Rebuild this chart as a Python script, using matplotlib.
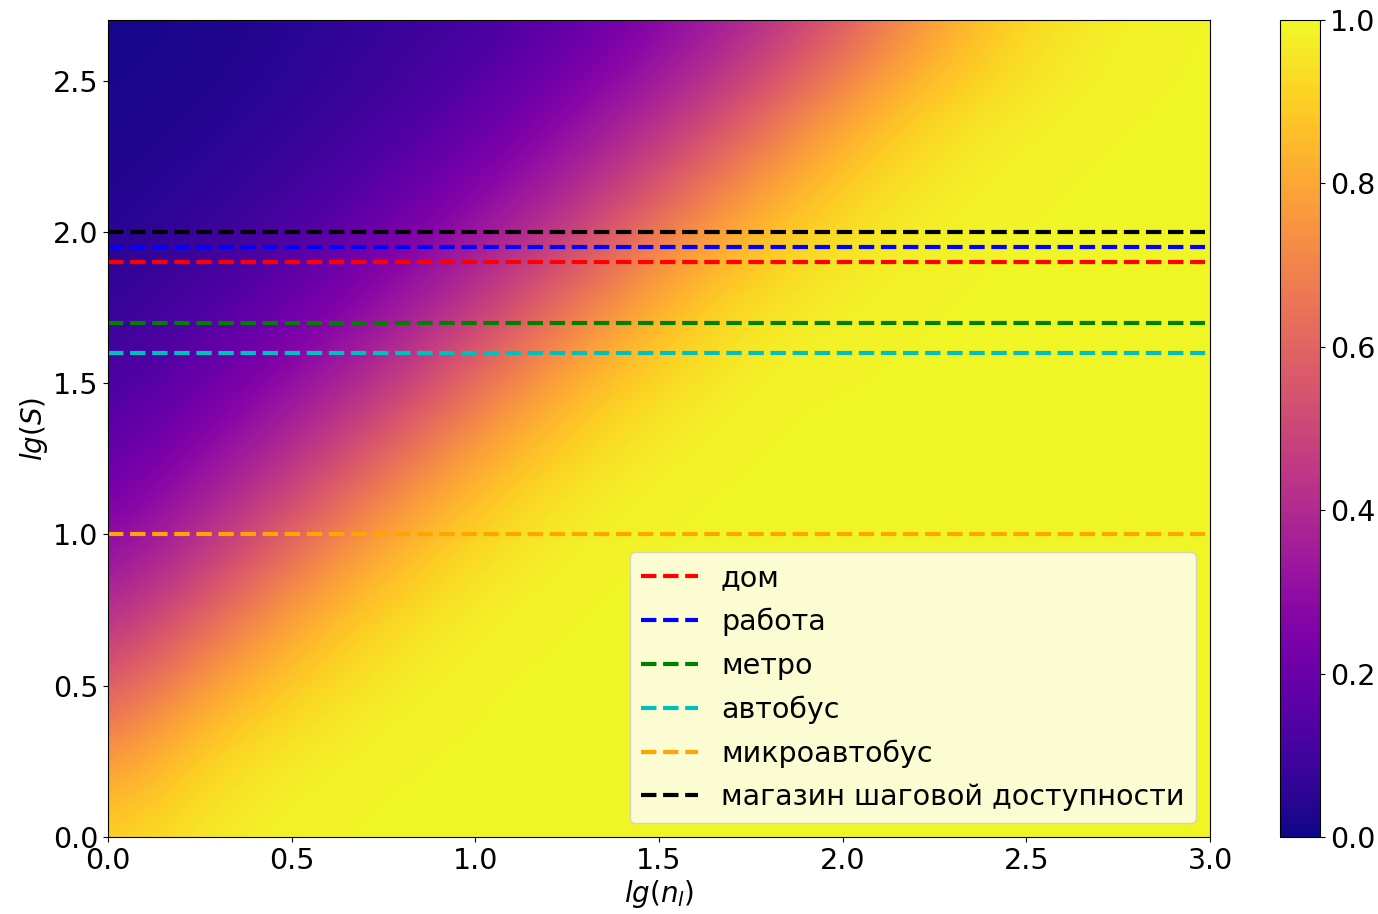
import numpy as np
import matplotlib
matplotlib.use("Agg")
import matplotlib.pyplot as plt

# grid nodes of the map
x_nodes = [0.0, 0.25, 0.5, 0.75, 1.0, 1.25, 1.5, 1.75, 2.0, 2.25, 2.5, 2.75, 3.0]
y_nodes = [0.0, 0.3, 0.6, 0.9, 1.2, 1.5, 1.8, 2.1, 2.4, 2.7]

z_values = [
    [0.92, 0.97, 0.99, 0.99, 0.99, 0.99, 0.99, 0.99, 0.99, 0.99, 0.99, 0.99, 0.99],  # y=0.0
    [0.71, 0.91, 0.97, 0.99, 0.99, 0.99, 0.99, 0.99, 0.99, 0.99, 0.99, 0.99, 0.99],  # y=0.3
    [0.47, 0.69, 0.87, 0.96, 0.99, 0.99, 0.99, 0.99, 0.99, 0.99, 0.99, 0.99, 0.99],  # y=0.6
    [0.31, 0.45, 0.67, 0.86, 0.96, 0.99, 0.99, 0.99, 0.99, 0.99, 0.99, 0.99, 0.99],  # y=0.9
    [0.19, 0.31, 0.44, 0.65, 0.84, 0.95, 0.99, 0.99, 0.99, 0.99, 0.99, 0.99, 0.99],  # y=1.2
    [0.11, 0.19, 0.30, 0.42, 0.63, 0.83, 0.94, 0.99, 0.99, 0.99, 0.99, 0.99, 0.99],  # y=1.5
    [0.06, 0.11, 0.18, 0.29, 0.41, 0.61, 0.82, 0.94, 0.98, 0.99, 0.99, 0.99, 0.99],  # y=1.8
    [0.03, 0.06, 0.10, 0.17, 0.28, 0.39, 0.59, 0.80, 0.93, 0.98, 0.99, 0.99, 0.99],  # y=2.1
    [0.02, 0.03, 0.06, 0.10, 0.16, 0.27, 0.38, 0.56, 0.79, 0.93, 0.98, 0.99, 0.99],  # y=2.4
    [0.01, 0.02, 0.04, 0.07, 0.10, 0.16, 0.26, 0.37, 0.54, 0.77, 0.92, 0.98, 0.99],  # y=2.7
]

# horizontal reference levels
level_names  = ["дом", "работа", "метро", "автобус", "микроавтобус", "магазин шаговой доступности"]
level_values = [1.9, 1.95, 1.7, 1.6, 1.0, 2.0]
level_colors = ["red", "blue", "green", "c", "orange", "black"]

fig = plt.figure(figsize=(13.78, 9.14), dpi=100)
ax  = fig.add_axes([0.0784, 0.0842, 0.7997, 0.8939])
cax = fig.add_axes([0.929, 0.0842, 0.029, 0.8939])

z = np.array(z_values)
dx = (x_nodes[1] - x_nodes[0]) / 2
dy = (y_nodes[1] - y_nodes[0]) / 2
im = ax.imshow(z, origin="lower", cmap="plasma", vmin=0, vmax=1,
               extent=[x_nodes[0] - dx, x_nodes[-1] + dx, y_nodes[0] - dy, y_nodes[-1] + dy],
               interpolation="bicubic", aspect="auto")

for name, val, col in zip(level_names, level_values, level_colors):
    ax.plot([0, 2.985], [val, val], linestyle="--", color=col, linewidth=3, label=name)

ax.set_xlim(0, 3.0)
ax.set_ylim(0, 2.7)
ax.set_xticks(np.arange(0, 3.01, 0.5))
ax.set_yticks(np.arange(0, 2.51, 0.5))
ax.tick_params(labelsize=20.5)
ax.set_xlabel("$lg(n_l)$", fontsize=20, labelpad=2)
ax.set_ylabel("$lg(S)$", fontsize=20, labelpad=2)

ax.legend(loc="lower right", fontsize=20.5, labelspacing=0.55)

cb = fig.colorbar(im, cax=cax)
cb.set_ticks(np.arange(0, 1.01, 0.2))
cb.ax.tick_params(labelsize=20.5)

fig.savefig("out.png", dpi=100)
